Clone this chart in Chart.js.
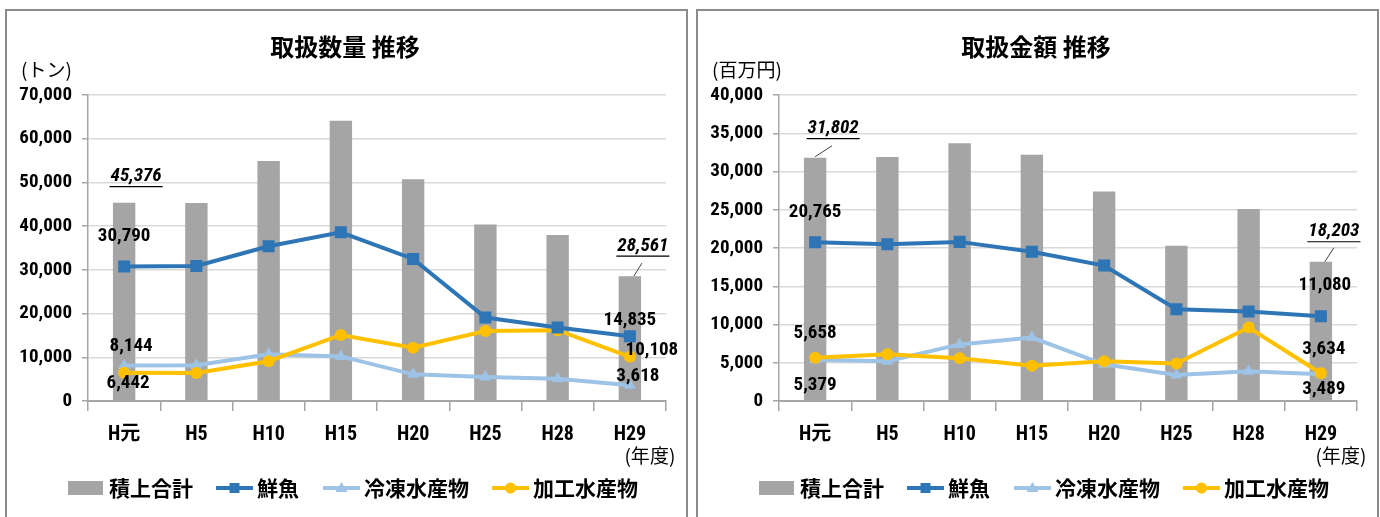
<!DOCTYPE html>
<html>
<head>
<meta charset="utf-8">
<title>取扱数量・取扱金額 推移</title>
<script src="https://cdn.jsdelivr.net/npm/chart.js"></script>
<style>
  body { margin: 0; background: #fff; width: 1380px; height: 517px; overflow: hidden; position: relative; }
  .panel { position: absolute; top: 9px; width: 679px; height: 520px; border: 2px solid #8c8c8c; background: #fff; }
  #p1 { left: 5px; }
  #p2 { left: 696px; }
  canvas { position: absolute; left: 0; top: 0; }
</style>
</head>
<body>
<div class="panel" id="p1"><canvas id="qty" width="679" height="506"></canvas></div>
<div class="panel" id="p2"><canvas id="amt" width="679" height="506"></canvas></div>
<script>
// categories (年度)
const categories = ['H元', 'H5', 'H10', 'H15', 'H20', 'H25', 'H28', 'H29'];
const seriesNames = ['積上合計', '鮮魚', '冷凍水産物', '加工水産物'];

// 取扱数量 (トン)
const qtyTotal     = [45376, 45300, 54900, 64100, 50700, 40400, 38000, 28561];
const qtyFresh     = [30790, 30900, 35400, 38600, 32500, 19100, 16800, 14835];
const qtyFrozen    = [8144, 8200, 10700, 10200, 6100, 5500, 5100, 3618];
const qtyProcessed = [6442, 6400, 9100, 15100, 12200, 16000, 16200, 10108];
const qtyTicks = { max: 70000, step: 10000 };

// 取扱金額 (百万円)
const amtTotal     = [31802, 31900, 33700, 32200, 27400, 20300, 25100, 18203];
const amtFresh     = [20765, 20500, 20800, 19500, 17700, 12000, 11700, 11080];
const amtFrozen    = [5379, 5200, 7400, 8300, 4800, 3400, 3900, 3489];
const amtProcessed = [5658, 6100, 5600, 4600, 5200, 4900, 9600, 3634];
const amtTicks = { max: 40000, step: 5000 };

const NUM_FONT = '"Roboto Condensed", "Noto Sans CJK JP", sans-serif';
const CJK_FONT = '"Noto Sans CJK JP", sans-serif';
const colors = { total: '#a5a5a5', fresh: '#2e75b6', frozen: '#9dc3e6', processed: '#ffc000' };

function fmt(v) { return v.toLocaleString('en-US'); }

// data labels, legend, titles
const decorPlugin = {
  id: 'decor',
  afterDraw(chart, args, opts) {
    const ctx = chart.ctx;
    ctx.save();
    // title
    ctx.fillStyle = '#000';
    ctx.textAlign = 'center';
    ctx.textBaseline = 'middle';
    ctx.font = 'bold 24px ' + CJK_FONT;
    ctx.fillText(opts.title, 338, 36);
    // unit
    ctx.font = '19px ' + CJK_FONT;
    ctx.textAlign = 'left';
    ctx.fillText(opts.unit, 14, 59);
    // (年度)
    ctx.textAlign = 'center';
    ctx.font = '19px ' + CJK_FONT;
    const xs = chart.scales.x;
    ctx.fillText('(年度)', xs.getPixelForValue(categories.length - 1) + 20, 445);

    // data labels
    opts.labels.forEach(l => {
      const el = chart.getDatasetMeta(l.ds).data[l.i];
      const v = chart.data.datasets[l.ds].data[l.i];
      const txt = fmt(v);
      const x = el.x + l.dx, y = el.y + l.dy;
      ctx.font = (l.total ? 'italic bold ' : 'bold ') + '19px ' + NUM_FONT;
      ctx.fillStyle = '#000';
      ctx.textAlign = 'center';
      ctx.textBaseline = 'middle';
      ctx.fillText(txt, x, y);
      if (l.total) {
        const w = ctx.measureText(txt).width;
        ctx.strokeStyle = '#000';
        ctx.lineWidth = 1.2;
        ctx.beginPath();
        ctx.moveTo(x - w / 2 - 1, y + 10);
        ctx.lineTo(x + w / 2 + 1, y + 10);
        ctx.stroke();
      }
      if (l.leader) {
        ctx.strokeStyle = '#404040';
        ctx.lineWidth = 1;
        ctx.beginPath();
        ctx.moveTo(el.x + l.leader[0], el.y + l.leader[1]);
        ctx.lineTo(el.x + l.leader[2], el.y + l.leader[3]);
        ctx.stroke();
      }
    });

    // legend
    const ly = 477;
    ctx.textAlign = 'left';
    ctx.textBaseline = 'middle';
    ctx.font = 'bold 21px ' + CJK_FONT;
    ctx.fillStyle = colors.total;
    ctx.fillRect(61, ly - 7, 35, 14);
    ctx.fillStyle = '#000';
    ctx.fillText(seriesNames[0], 102, ly);
    const items = [
      { x: 209, c: colors.fresh, s: 'rect', name: seriesNames[1] },
      { x: 316, c: colors.frozen, s: 'tri', name: seriesNames[2] },
      { x: 485, c: colors.processed, s: 'circle', name: seriesNames[3] }
    ];
    items.forEach(it => {
      ctx.strokeStyle = it.c;
      ctx.fillStyle = it.c;
      ctx.lineWidth = 4;
      ctx.beginPath();
      ctx.moveTo(it.x, ly);
      ctx.lineTo(it.x + 37, ly);
      ctx.stroke();
      const mx = it.x + 18.5;
      ctx.beginPath();
      if (it.s === 'rect') ctx.rect(mx - 5, ly - 5, 10, 10);
      else if (it.s === 'tri') { ctx.moveTo(mx, ly - 6); ctx.lineTo(mx + 6, ly + 4); ctx.lineTo(mx - 6, ly + 4); ctx.closePath(); }
      else ctx.arc(mx, ly, 5.5, 0, Math.PI * 2);
      ctx.fill();
      ctx.fillStyle = '#000';
      ctx.fillText(it.name, it.x + 41, ly);
    });
    ctx.restore();
  }
};

function lineSet(label, data, color, style, radius, order) {
  return {
    type: 'line', label, data, order,
    borderColor: color, backgroundColor: color, borderWidth: 4,
    pointStyle: style, pointRadius: radius, pointBorderWidth: 0,
    pointBackgroundColor: color, tension: 0
  };
}

function makeChart(id, total, fresh, frozen, processed, ticks, title, unit, labels) {
  new Chart(document.getElementById(id), {
    type: 'bar',
    data: {
      labels: categories,
      datasets: [
        { type: 'bar', label: seriesNames[0], data: total, order: 4,
          backgroundColor: colors.total, barPercentage: 0.31, categoryPercentage: 1 },
        lineSet(seriesNames[1], fresh, colors.fresh, 'rect', 8.5, 1),
        lineSet(seriesNames[2], frozen, colors.frozen, 'triangle', 7, 3),
        lineSet(seriesNames[3], processed, colors.processed, 'circle', 6, 2)
      ]
    },
    options: {
      responsive: false,
      animation: false,
      layout: { padding: { left: 0, top: 84, right: 20, bottom: 66 } },
      plugins: {
        legend: { display: false },
        tooltip: { enabled: false },
        decor: { title, unit, labels }
      },
      scales: {
        x: {
          offset: true,
          grid: { offset: true, drawOnChartArea: false, tickLength: 10, color: '#a6a6a6', lineWidth: 1.5 },
          border: { color: '#a6a6a6', width: 2 },
          ticks: { color: '#000', padding: 12, font: { family: NUM_FONT, size: 20, weight: 'bold' } },
          afterFit(s) { s.height = 50; }
        },
        y: {
          min: 0, max: ticks.max,
          grid: { color: '#d9d9d9', lineWidth: 1.5, tickLength: 6, tickColor: '#a6a6a6' },
          border: { color: '#a6a6a6', width: 1.5 },
          ticks: { stepSize: ticks.step, color: '#000', padding: 10,
                   font: { family: NUM_FONT, size: 19, weight: 'bold' },
                   callback: v => fmt(v) },
          afterFit(s) { s.width = 81; }
        }
      }
    },
    plugins: [decorPlugin]
  });
}

makeChart('qty', qtyTotal, qtyFresh, qtyFrozen, qtyProcessed, qtyTicks, '取扱数量 推移', '(トン)', [
  { ds: 0, i: 0, dx: 12, dy: -26, total: true },
  { ds: 0, i: 7, dx: 13, dy: -30, total: true, leader: [12, -13, 4, 0] },
  { ds: 1, i: 0, dx: 0, dy: -30 },
  { ds: 2, i: 0, dx: 7, dy: -19 },
  { ds: 3, i: 0, dx: 4, dy: 10 },
  { ds: 1, i: 7, dx: 0, dy: -16 },
  { ds: 3, i: 7, dx: 22, dy: -7 },
  { ds: 2, i: 7, dx: 8, dy: -9 }
]);

makeChart('amt', amtTotal, amtFresh, amtFrozen, amtProcessed, amtTicks, '取扱金額 推移', '(百万円)', [
  { ds: 0, i: 0, dx: 18, dy: -29, total: true, leader: [17, -12, 0, -1] },
  { ds: 0, i: 7, dx: 13, dy: -30, total: true, leader: [13, -14, 4, 0] },
  { ds: 1, i: 0, dx: 0, dy: -30 },
  { ds: 3, i: 0, dx: 0, dy: -24 },
  { ds: 2, i: 0, dx: 0, dy: 25 },
  { ds: 1, i: 7, dx: 4, dy: -31 },
  { ds: 3, i: 7, dx: 3, dy: -24 },
  { ds: 2, i: 7, dx: 3, dy: 15 }
]);
</script>
</body>
</html>
